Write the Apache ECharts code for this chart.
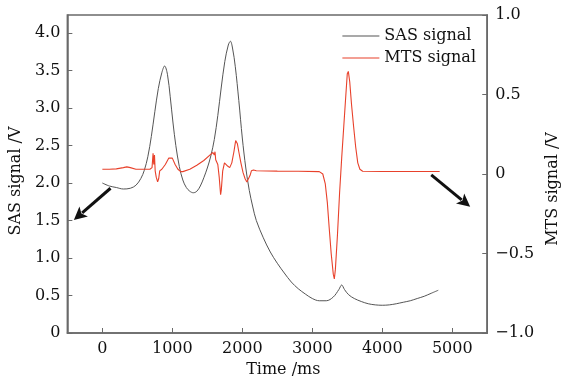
<!DOCTYPE html>
<html>
<head>
<meta charset="utf-8">
<script src="https://cdn.jsdelivr.net/npm/echarts@6/dist/echarts.min.js"></script>
<style>html,body{margin:0;padding:0;background:#fff;}#c{width:569px;height:383px;}</style>
</head>
<body>
<div id="c"></div>
<script>
// ---- data ----
const sasTime = [0,100,200,300,400,480,550,600,650,700,750,800,850,890,930,970,1010,1050,1100,1150,1200,1250,1300,1350,1400,1450,1500,1550,1600,1650,1700,1750,1800,1830,1860,1900,1950,2000,2050,2100,2150,2200,2300,2400,2500,2600,2700,2800,2900,3000,3100,3200,3300,3380,3420,3460,3520,3600,3700,3800,3900,4000,4100,4200,4300,4400,4500,4600,4700,4800];
const sasValue = [2.00,1.96,1.94,1.92,1.93,1.97,2.06,2.17,2.35,2.62,2.95,3.26,3.47,3.56,3.45,3.15,2.80,2.50,2.22,2.04,1.94,1.89,1.87,1.89,1.96,2.07,2.20,2.36,2.58,2.90,3.28,3.62,3.84,3.89,3.80,3.55,3.10,2.60,2.20,1.90,1.68,1.50,1.27,1.08,0.93,0.80,0.68,0.59,0.52,0.46,0.43,0.43,0.48,0.58,0.64,0.58,0.51,0.46,0.42,0.39,0.375,0.37,0.375,0.39,0.41,0.43,0.46,0.49,0.53,0.57];

const mtsTime = [0,100,200,300,350,400,480,600,680,710,725,735,745,755,770,790,805,820,850,900,950,975,1000,1040,1080,1120,1150,1250,1350,1450,1540,1580,1600,1610,1620,1635,1650,1670,1690,1700,1720,1745,1760,1790,1820,1850,1880,1905,1915,1930,1950,1980,2010,2040,2065,2090,2110,2130,2160,2200,2500,2800,3100,3150,3185,3215,3240,3270,3300,3315,3330,3360,3390,3420,3450,3480,3500,3515,3535,3560,3590,3620,3650,3680,3720,4000,4400,4820];
const mtsValue = [0.03,0.03,0.032,0.04,0.045,0.04,0.03,0.03,0.03,0.04,0.13,0.06,0.12,0.02,-0.02,-0.05,-0.03,0.02,0.03,0.06,0.10,0.11,0.10,0.06,0.03,0.015,0.015,0.03,0.055,0.085,0.12,0.135,0.12,0.14,0.09,0.10,0.06,-0.02,-0.13,-0.10,0.02,0.07,0.06,0.05,0.04,0.07,0.14,0.21,0.22,0.19,0.14,0.07,0.01,-0.03,-0.05,-0.05,-0.01,0.02,0.025,0.02,0.018,0.017,0.015,0.0,-0.06,-0.18,-0.33,-0.50,-0.63,-0.66,-0.60,-0.38,-0.12,0.10,0.30,0.50,0.63,0.645,0.58,0.44,0.30,0.17,0.07,0.03,0.017,0.016,0.016,0.016];

const timeTicks = [0,1000,2000,3000,4000,5000];
const sasTicks = [0,0.5,1.0,1.5,2.0,2.5,3.0,3.5,4.0];
const mtsTicks = [-1.0,-0.5,0,0.5,1.0];

const seriesNames = ['SAS signal','MTS signal'];
const axisNames = {x:'Time /ms', left:'SAS signal /V', right:'MTS signal /V'};

// arrow annotations in data space: [fromX, fromY, toX, toY, yAxisIndex]
const arrowsData = [
  [117, 1.93, -407, 1.507, 0],
  [4700, -0.006, 5256, -0.206, 1]
];

// ---- chart ----
const FONT = 'DejaVu Serif';
const TXT = '#111';
const AX = '#6a6a6a';
const pair = (a,b)=>a.map((v,i)=>[v,b[i]]);

const chart = echarts.init(document.getElementById('c'), null, {renderer:'canvas'});
const fmtX = v => String(v);
const fmtLeft = v => v===0 ? '0' : v.toFixed(1);
const fmtRight = v => v===0 ? '0' : (v<0?'\u2212':'') + Math.abs(v).toFixed(1);

chart.setOption({
  animation:false,
  backgroundColor:'#fff',
  grid:{left:67,right:70,top:15,bottom:50,show:true,borderColor:AX,borderWidth:1.5,backgroundColor:'transparent'},
  legend:{
    orient:'vertical', right:88, top:23, itemWidth:37, itemHeight:1.2, itemGap:6, itemTextGap:6,
    icon:'rect',
    textStyle:{fontFamily:FONT,fontSize:16,color:TXT},
    data:seriesNames
  },
  xAxis:{
    type:'value', min:-500, max:5500,
    name:axisNames.x, nameLocation:'middle', nameGap:28,
    nameTextStyle:{fontFamily:FONT,fontSize:16,color:TXT,padding:[0,0,0,12]},
    axisLine:{show:true,onZero:false,lineStyle:{color:AX,width:1.5}},
    axisTick:{show:true,inside:true,length:5,lineStyle:{color:AX},customValues:timeTicks},
    axisLabel:{fontFamily:FONT,fontSize:16,color:TXT,margin:8,customValues:timeTicks,formatter:fmtX},
    splitLine:{show:false}
  },
  yAxis:[{
    type:'value', min:0, max:4.24, position:'left',
    name:axisNames.left, nameLocation:'middle', nameGap:38, nameRotate:90,
    nameTextStyle:{fontFamily:FONT,fontSize:16,color:TXT,padding:[0,14,0,0]},
    axisLine:{show:true,onZero:false,lineStyle:{color:AX,width:1.5}},
    axisTick:{show:true,inside:true,length:5,lineStyle:{color:AX},customValues:sasTicks},
    axisLabel:{fontFamily:FONT,fontSize:16,color:TXT,margin:7,customValues:sasTicks,formatter:fmtLeft},
    splitLine:{show:false}
  },{
    type:'value', min:-1, max:1, position:'right',
    name:axisNames.right, nameLocation:'middle', nameGap:49, nameRotate:90,
    nameTextStyle:{fontFamily:FONT,fontSize:16,color:TXT,padding:[0,30,0,0]},
    axisLine:{show:true,onZero:false,lineStyle:{color:AX,width:1.5}},
    axisTick:{show:true,inside:true,length:5,lineStyle:{color:AX},customValues:mtsTicks},
    axisLabel:{fontFamily:FONT,fontSize:16,color:TXT,margin:8,customValues:mtsTicks,formatter:fmtRight},
    splitLine:{show:false}
  }],
  series:[{
    name:seriesNames[0], type:'line', yAxisIndex:0, data:pair(sasTime,sasValue),
    symbol:'none', smooth:0.35, lineStyle:{color:'#555',width:1}, itemStyle:{color:'#555'}
  },{
    name:seriesNames[1], type:'line', yAxisIndex:1, data:pair(mtsTime,mtsValue),
    symbol:'none', smooth:false, lineStyle:{color:'#e8412b',width:1.1}, itemStyle:{color:'#e8412b'}
  }]
});

// arrows
const graphics = [];
arrowsData.forEach(a=>{
  const p0 = chart.convertToPixel({xAxisIndex:0,yAxisIndex:a[4]},[a[0],a[1]]);
  const p1 = chart.convertToPixel({xAxisIndex:0,yAxisIndex:a[4]},[a[2],a[3]]);
  const dx=p1[0]-p0[0], dy=p1[1]-p0[1], L=Math.hypot(dx,dy), ux=dx/L, uy=dy/L;
  const hl=13, hw=6.5;
  const bx=p1[0]-ux*hl, by=p1[1]-uy*hl;
  graphics.push({type:'line',shape:{x1:p0[0],y1:p0[1],x2:bx+ux*2,y2:by+uy*2},style:{stroke:'#111',lineWidth:3},silent:true});
  graphics.push({type:'polygon',shape:{points:[[p1[0],p1[1]],[bx-uy*hw,by+ux*hw],[bx+ux*3,by+uy*3],[bx+uy*hw,by-ux*hw]]},style:{fill:'#111'},silent:true});
});
chart.setOption({graphic:graphics});
</script>
</body>
</html>
